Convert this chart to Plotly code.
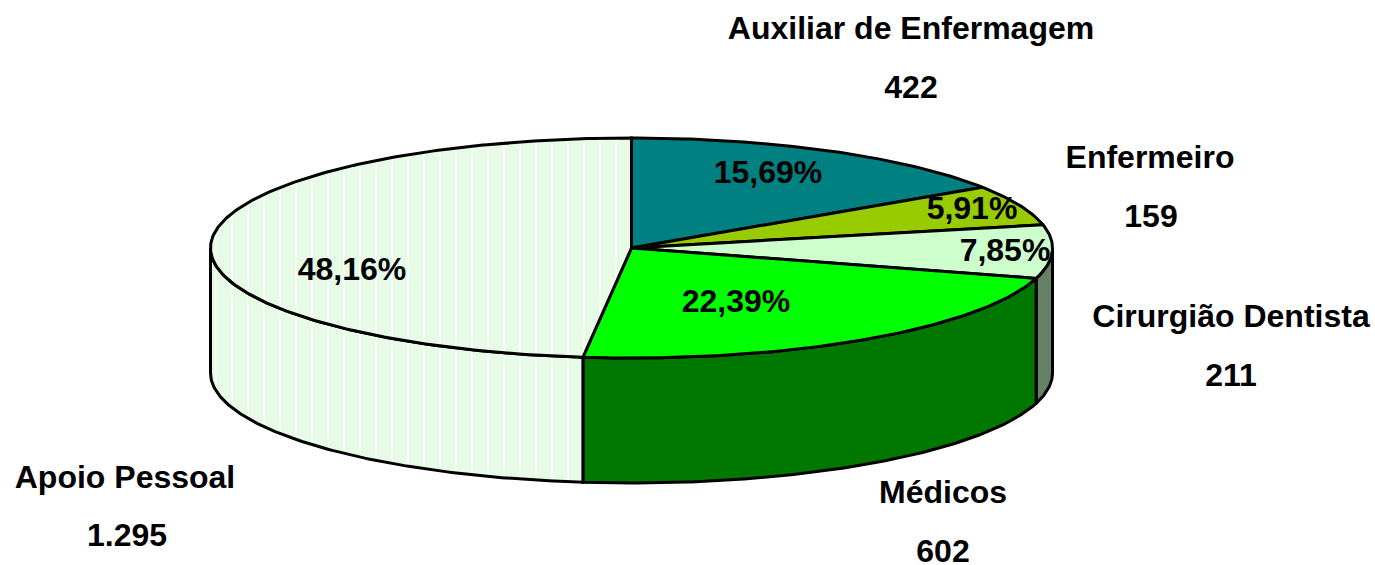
import math
import plotly.graph_objects as go

categories = ["Auxiliar de Enfermagem", "Enfermeiro", "Cirurgião Dentista", "Médicos", "Apoio Pessoal"]
values = [422, 159, 211, 602, 1295]
tick_labels = ["422", "159", "211", "602", "1.295"]

top_colors = ["#008080", "#99CC00", "#CCFFCC", "#00FF00", "#E6FAE6"]
side_colors = ["#004040", "#4C6600", "#668066", "#007800", "#E6FAE6"]

CX, CY, RX, RY, DEPTH = 631.5, 248, 421, 110, 125
label_pos = [(911, 31), (1150, 160), (1231, 319), (943, 495), (125, 480)]
value_pos = [(911, 90), (1151, 219), (1231, 378), (943, 554), (127, 538)]
pct_pos = [(768, 175), (972, 211), (1005, 253), (736, 304), (352, 272)]
FONT = "Liberation Sans"
SIZE = 32


def pt(deg, dy=0.0):
    r = math.radians(deg)
    return CX + RX * math.sin(r), CY - RY * math.cos(r) + dy


def arc(a, b, dy=0.0):
    n = max(2, int(abs(b - a) * 1.5))
    return [pt(a + (b - a) * i / n, dy) for i in range(n + 1)]


total = sum(values)
spans = []
acc = 0
for v in values:
    spans.append((acc / total * 360, (acc + v) / total * 360))
    acc += v

fig = go.Figure()


def poly(points, color, pattern=False):
    xs = [p[0] for p in points] + [points[0][0]]
    ys = [p[1] for p in points] + [points[0][1]]
    kw = {}
    if pattern:
        kw["fillpattern"] = dict(shape="|", size=16, solidity=0.08, fgcolor="#FFFFFF",
                                 bgcolor=color, fillmode="replace")
    fig.add_trace(go.Scatter(x=xs, y=ys, mode="lines", fill="toself", fillcolor=color,
                             line=dict(color="#000000", width=3), hoverinfo="skip",
                             showlegend=False, **kw))


# side wall
for i, (a, b) in enumerate(spans):
    lo, hi = max(a, 90), min(b, 270)
    if lo < hi:
        poly(arc(lo, hi) + arc(hi, lo, DEPTH), side_colors[i], pattern=i == 4)
# top face
for i, (a, b) in enumerate(spans):
    poly([(CX, CY)] + arc(a, b), top_colors[i], pattern=i == 4)

txt_x = [p[0] for p in label_pos + value_pos + pct_pos]
txt_y = [p[1] for p in label_pos + value_pos + pct_pos]
pcts = [f"{v / total * 100:.2f}%".replace(".", ",") for v in values]
txt = categories + tick_labels + pcts
fig.add_trace(go.Scatter(x=txt_x, y=txt_y, mode="text", text=[f"<b>{t}</b>" for t in txt],
                         textposition="middle center", cliponaxis=False,
                         textfont=dict(family=FONT, size=SIZE, color="#000000"),
                         hoverinfo="skip", showlegend=False))

fig.update_layout(
    width=1375, height=565, margin=dict(l=0, r=0, t=0, b=0),
    paper_bgcolor="#FFFFFF", plot_bgcolor="#FFFFFF",
    xaxis=dict(range=[0, 1375], visible=False, fixedrange=True),
    yaxis=dict(range=[565, 0], visible=False, fixedrange=True),
)
fig.write_html("out.html", config=dict(displayModeBar=False),
               post_script="document.body.style.margin='0';document.body.style.overflow='hidden';")
